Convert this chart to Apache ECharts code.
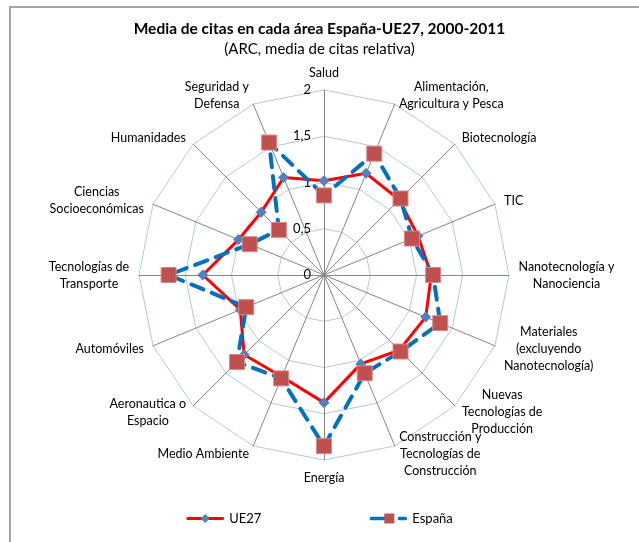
<!DOCTYPE html>
<html>
<head>
<meta charset="utf-8">
<script src="https://cdn.jsdelivr.net/npm/echarts@6/dist/echarts.min.js"></script>
<style>
  html, body { margin: 0; padding: 0; background: #fff; }
  #frame {
    position: absolute; left: 9px; top: 6px; width: 700px; height: 600px;
    border: 2px solid #a6a6a6; box-sizing: border-box;
  }
  #chart { position: absolute; left: 0; top: 0; width: 639px; height: 542px; }
</style>
</head>
<body>
<div id="frame"></div>
<div id="chart"></div>
<script>
// areas, clockwise from the top
const areas = [
  'Salud',
  'Alimentación,\nAgricultura y Pesca',
  'Biotecnología',
  'TIC',
  'Nanotecnología y\nNanociencia',
  'Materiales\n(excluyendo\nNanotecnología)',
  'Nuevas\nTecnologías de\nProducción',
  'Construcción y\nTecnologías de\nConstrucción',
  'Energía',
  'Medio Ambiente',
  'Aeronautica o\nEspacio',
  'Automóviles',
  'Tecnologías de\nTransporte',
  'Ciencias\nSocioeconómicas',
  'Humanidades',
  'Seguridad y\nDefensa'
]
const ue27 = [1.02, 1.19, 1.15, 1.10, 1.16, 1.19, 1.15, 1.04, 1.38, 1.19, 1.22, 0.98, 1.31, 1.00, 0.96, 1.14]
const espana = [0.86, 1.42, 1.17, 1.03, 1.18, 1.36, 1.17, 1.15, 1.85, 1.21, 1.33, 0.91, 1.68, 0.87, 0.69, 1.55]
const axisMax = 2

// echarts lays radar indicators out counter-clockwise, so reverse after the first
const order = [0].concat(areas.map((_, i) => i).slice(1).reverse())
const pick = arr => order.map(i => arr[i])

// legend icons: line with its marker, like the spreadsheet legend
function svgIcon(body) {
  const svg = '<svg xmlns="http://www.w3.org/2000/svg" width="38" height="12" viewBox="0 0 38 12">' + body + '</svg>'
  return 'image://data:image/svg+xml;charset=utf-8,' + encodeURIComponent(svg)
}
const ueIcon = svgIcon(
  '<line x1="1.5" y1="6" x2="36.5" y2="6" stroke="#ff0000" stroke-width="3" stroke-linecap="round"/>' +
  '<polygon points="19,1.5 23.5,6 19,10.5 14.5,6" fill="#4f81bd"/>'
)
const esIcon = svgIcon(
  '<line x1="2" y1="6" x2="15" y2="6" stroke="#0070c0" stroke-width="3.5" stroke-linecap="round"/>' +
  '<rect x="15" y="1" width="10" height="10" fill="#c0504d"/>' +
  '<line x1="30" y1="6" x2="36" y2="6" stroke="#0070c0" stroke-width="3.5" stroke-linecap="round"/>'
)

// multi-line axis names: centre each line inside a box as wide as the longest one
const nameFont = '12.5px Lato, sans-serif'
const ctx = document.createElement('canvas').getContext('2d')
ctx.font = nameFont
const nameRich = {}
const nameKey = {}
areas.forEach((name, i) => {
  const w = Math.max(...name.split('\n').map(s => ctx.measureText(s).width))
  nameKey[name] = 'n' + i
  nameRich['n' + i] = { width: Math.ceil(w) + 1, align: 'center', fontSize: 12.5, lineHeight: 17, color: '#000' }
})

const chart = echarts.init(document.getElementById('chart'))

const option = {
  backgroundColor: 'transparent',
  textStyle: { fontFamily: 'Lato, sans-serif' },
  title: {
    text: 'Media de citas en cada área España-UE27, 2000-2011',
    subtext: '(ARC, media de citas relativa)',
    left: 'center',
    top: 16,
    itemGap: 5,
    textStyle: { fontSize: 15.5, fontWeight: 'bold', color: '#000' },
    subtextStyle: { fontSize: 15, color: '#000' }
  },
  legend: {
    data: [
      { name: 'UE27', icon: ueIcon },
      { name: 'España', icon: esIcon }
    ],
    bottom: 12,
    left: 'center',
    itemGap: 108,
    itemWidth: 38,
    itemHeight: 12,
    textStyle: { fontSize: 13, color: '#000' }
  },
  radar: {
    center: [324, 275],
    radius: 185,
    startAngle: 90,
    splitNumber: 4,
    shape: 'polygon',
    nameGap: 9,
    axisName: {
      color: '#000',
      fontSize: 12.5,
      lineHeight: 17,
      formatter: name => {
        const k = nameKey[name]
        return name.split('\n').map(s => '{' + k + '|' + s + '}').join('\n')
      },
      rich: nameRich
    },
    axisLine: { lineStyle: { color: '#868686', width: 1 } },
    splitLine: { lineStyle: { color: '#b3c6e7', width: 1 } },
    splitArea: { show: false },
    axisTick: { show: false },
    axisLabel: { show: false },
    indicator: pick(areas).map((name, i) => {
      const ind = { name: name, min: 0, max: axisMax }
      if (i === 0) {
        ind.axisLabel = {
          show: true,
          color: '#000',
          fontSize: 13,
          margin: 13,
          formatter: v => String(v).replace('.', ',')
        }
      }
      return ind
    })
  },
  series: [
    {
      name: 'UE27',
      type: 'radar',
      z: 2,
      symbol: 'diamond',
      symbolSize: 11,
      lineStyle: { color: '#ff0000', width: 3 },
      itemStyle: { color: '#4f81bd' },
      data: [{ name: 'UE27', value: pick(ue27) }]
    },
    {
      name: 'España',
      type: 'radar',
      z: 3,
      symbol: 'rect',
      symbolSize: 15,
      lineStyle: { color: '#0070c0', width: 4, type: [13, 9], cap: 'round' },
      itemStyle: { color: '#c0504d', borderColor: '#d58a88', borderWidth: 1 },
      data: [{ name: 'España', value: pick(espana) }]
    }
  ]
}

chart.setOption(option)
</script>
</body>
</html>
